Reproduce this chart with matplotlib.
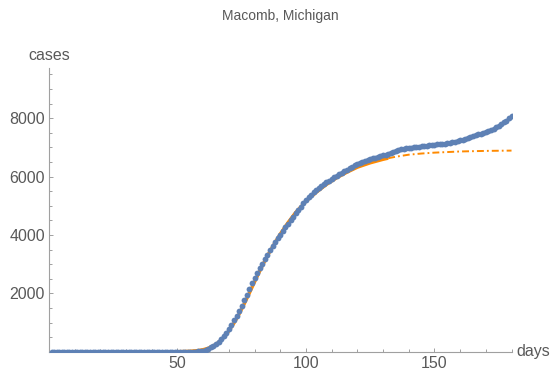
import matplotlib
matplotlib.use("Agg")
from matplotlib import pyplot as plt
from matplotlib.ticker import MultipleLocator

# daily cumulative cases, day 1..180
cases = [0] * 55 + [
    3, 6, 12, 22, 40, 65, 100, 145, 200, 265,
    345, 440, 540, 650, 775, 920, 1070, 1230, 1400, 1575,
    1760, 1950, 2140, 2340, 2530, 2700, 2860, 3020, 3180, 3330,
    3470, 3610, 3750, 3880, 4010, 4140, 4260, 4380, 4500, 4620,
    4740, 4860, 4970, 5080, 5190, 5290, 5380, 5460, 5540, 5610,
    5680, 5740, 5800, 5860, 5920, 5980, 6030, 6080, 6130, 6180,
    6230, 6280, 6330, 6380, 6430, 6470, 6510, 6540, 6570, 6600,
    6625, 6650, 6675, 6700, 6725, 6750, 6780, 6810, 6845, 6880,
    6910, 6935, 6955, 6970, 6985, 6995, 7005, 7015, 7025, 7035,
    7045, 7055, 7065, 7078, 7090, 7100, 7110, 7120, 7132, 7145,
    7160, 7178, 7198, 7220, 7245, 7270, 7298, 7326, 7354, 7383,
    7412, 7442, 7472, 7502, 7535, 7568, 7605, 7645, 7690, 7740,
    7795, 7855, 7920, 7995, 8080,
]
days = list(range(1, len(cases) + 1))

# fitted curve: solid over the fit range, dash-dot beyond
fit_days = [50, 55, 58, 60, 62, 64, 66, 68, 70, 72, 74, 76, 78, 80, 82, 84, 86, 88, 90,
            93, 96, 100, 104, 108, 112, 116, 120, 125, 130, 132]
fit_vals = [2, 15, 40, 70, 120, 200, 320, 490, 710, 980, 1290, 1640, 2010, 2390, 2760, 3110,
            3440, 3740, 4030, 4420, 4770, 5150, 5460, 5730, 5960, 6150, 6320, 6470, 6590, 6630]
pred_days = [132, 135, 140, 145, 150, 160, 170, 180]
pred_vals = [6630, 6680, 6750, 6790, 6820, 6860, 6880, 6890]

blue = "#5e81b5"
orange = "#ff8a00"
grey = "#595959"

plt.rcParams['font.family'] = ['Liberation Sans', 'DejaVu Sans']
plt.rcParams['lines.scale_dashes'] = False

fig = plt.figure(figsize=(5.53, 3.73), dpi=100)
ax = fig.add_axes([0.0885, 0.0571, 0.8365, 0.7606])

ax.plot(fit_days, fit_vals, color=orange, lw=2.4, solid_capstyle="butt", zorder=2)
ax.plot(pred_days, pred_vals, color=orange, lw=1.4, linestyle=(0, (5, 2.2, 1.3, 2.2)), zorder=2)
ax.plot(days, cases, "o", color=blue, markersize=4.2, markeredgewidth=0, zorder=3)

ax.set_xlim(0, 180)
ax.set_ylim(0, 9720)
ax.spines["top"].set_visible(False)
ax.spines["right"].set_visible(False)
for s in ("left", "bottom"):
    ax.spines[s].set_color("#a0a0a0")
    ax.spines[s].set_linewidth(0.8)

ax.xaxis.set_minor_locator(MultipleLocator(10))
ax.yaxis.set_minor_locator(MultipleLocator(500))
ax.set_xticks([50, 100, 150])
ax.set_yticks([2000, 4000, 6000, 8000])
ax.tick_params(which="both", direction="in", color="#a0a0a0", width=0.7,
               labelsize=11.5, labelcolor=grey)
ax.tick_params(which="major", length=3.2, pad=3)
ax.tick_params(which="minor", length=1.9)

ax.text(0, 1.045, "cases", transform=ax.transAxes, ha="center", va="center",
        fontsize=11.5, color=grey)
ax.text(1.01, 0, "days", transform=ax.transAxes, ha="left", va="center",
        fontsize=11.5, color=grey)
fig.text(0.506, 0.957, "Macomb, Michigan", ha="center", va="center",
         fontsize=10, color=grey)

fig.savefig("out.png", dpi=100)
